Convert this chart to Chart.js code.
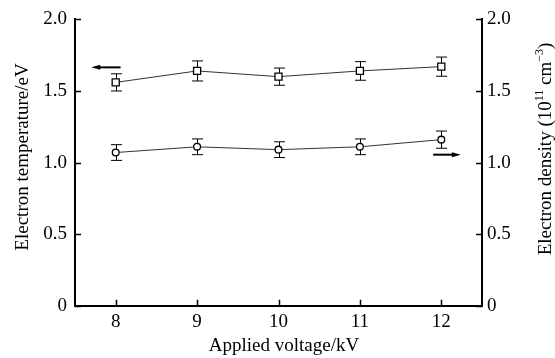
<!DOCTYPE html>
<html>
<head>
<meta charset="utf-8">
<script src="https://cdn.jsdelivr.net/npm/chart.js@4/dist/chart.umd.min.js"></script>
<style>
  html, body { margin: 0; padding: 0; background: #fff; }
  #wrap { width: 555px; height: 358px; }
</style>
</head>
<body>
<div id="wrap"><canvas id="plasmaChart" width="555" height="358"></canvas></div>
<script>
// Applied voltage (kV)
const voltage = [8, 9, 10, 11, 12];
// Electron temperature (eV), left axis
const temperature = [1.56, 1.64, 1.60, 1.64, 1.67];
const temperatureErr = [0.06, 0.07, 0.06, 0.065, 0.067];
// Electron density (1e11 cm^-3), right axis
const density = [1.07, 1.11, 1.09, 1.11, 1.16];
const densityErr = [0.055, 0.055, 0.055, 0.055, 0.06];
// y tick values (both axes)
const yTicks = [0, 0.5, 1.0, 1.5, 2.0];
// arrows telling which axis a series belongs to: [xFrom, xTo, y, yAxis]
const axisArrows = [
    [8.06, 7.70, 1.665, 'y'],
    [11.90, 12.24, 1.055, 'y1']
];

const FONT = 'Liberation Serif, Times New Roman, serif';

const toPoints = (ys) => voltage.map((v, i) => ({ x: v, y: ys[i] }));

// error bars with caps
const errorBars = {
    id: 'errorBars',
    afterDatasetsDraw(chart) {
        const ctx = chart.ctx;
        ctx.save();
        ctx.strokeStyle = '#000';
        ctx.lineWidth = 1;
        chart.data.datasets.forEach((ds, di) => {
            const yScale = chart.scales[ds.yAxisID];
            const xScale = chart.scales.x;
            ds.data.forEach((p, i) => {
                const x = Math.round(xScale.getPixelForValue(p.x)) + 0.5;
                const top = yScale.getPixelForValue(p.y + ds.errors[i]);
                const bot = yScale.getPixelForValue(p.y - ds.errors[i]);
                const r = ds.pointRadius;
                const ym = yScale.getPixelForValue(p.y);
                ctx.beginPath();
                ctx.moveTo(x, top); ctx.lineTo(x, ym - r * 0.75);
                ctx.moveTo(x, ym + r * 0.75); ctx.lineTo(x, bot);
                ctx.moveTo(x - 5.5, top); ctx.lineTo(x + 5.5, top);
                ctx.moveTo(x - 5.5, bot); ctx.lineTo(x + 5.5, bot);
                ctx.stroke();
            });
        });
        ctx.restore();
    }
};

// inward tick marks, arrows and axis titles
const decorations = {
    id: 'decorations',
    afterDraw(chart) {
        const ctx = chart.ctx;
        const { x, y, y1 } = chart.scales;
        const area = chart.chartArea;
        ctx.save();
        ctx.strokeStyle = '#000';
        ctx.lineWidth = 1.5;
        ctx.beginPath();
        x.ticks.forEach(t => {
            const px = Math.round(x.getPixelForValue(t.value)) + 0.5;
            ctx.moveTo(px, area.bottom); ctx.lineTo(px, area.bottom - 6);
        });
        y.ticks.forEach(t => {
            const py = Math.round(y.getPixelForValue(t.value)) + 0.5;
            ctx.moveTo(area.left, py); ctx.lineTo(area.left + 6, py);
        });
        y1.ticks.forEach(t => {
            const py = Math.round(y1.getPixelForValue(t.value)) + 0.5;
            ctx.moveTo(area.right, py); ctx.lineTo(area.right - 6, py);
        });
        ctx.stroke();

        // arrows
        ctx.lineWidth = 2;
        ctx.fillStyle = '#000';
        axisArrows.forEach(([x0, x1, yv, axis]) => {
            const s = chart.scales[axis];
            const p0 = x.getPixelForValue(x0);
            const p1 = x.getPixelForValue(x1);
            const py = s.getPixelForValue(yv);
            const dir = Math.sign(p1 - p0);
            ctx.beginPath();
            ctx.moveTo(p0, py); ctx.lineTo(p1 - dir * 6, py);
            ctx.stroke();
            ctx.beginPath();
            ctx.moveTo(p1, py);
            ctx.lineTo(p1 - dir * 9, py - 2.5);
            ctx.lineTo(p1 - dir * 9, py + 2.5);
            ctx.closePath();
            ctx.fill();
        });

        // titles
        ctx.fillStyle = '#000';
        ctx.font = '19px ' + FONT;
        ctx.textAlign = 'center';
        ctx.textBaseline = 'alphabetic';
        ctx.fillText('Applied voltage/kV', 284, 351);

        ctx.save();
        ctx.translate(28, 157);
        ctx.rotate(-Math.PI / 2);
        ctx.fillText('Electron temperature/eV', 0, 0);
        ctx.restore();

        // right title with superscripts, reading bottom to top
        const parts = [
            ['Electron density (10', false],
            ['11', true],
            [' cm', false],
            ['\u22123', true],
            [')', false]
        ];
        const big = '19px ' + FONT, small = '12px ' + FONT;
        let total = 0;
        parts.forEach(([t, sup]) => { ctx.font = sup ? small : big; total += ctx.measureText(t).width; });
        ctx.save();
        ctx.translate(551, 149);
        ctx.rotate(-Math.PI / 2);
        ctx.textAlign = 'left';
        let cx = -total / 2;
        parts.forEach(([t, sup]) => {
            ctx.font = sup ? small : big;
            ctx.fillText(t, cx, sup ? -8 : 0);
            cx += ctx.measureText(t).width;
        });
        ctx.restore();
        ctx.restore();
    }
};

const yLabel = (v) => (v === 0 ? '0' : v.toFixed(1));

new Chart(document.getElementById('plasmaChart'), {
    type: 'scatter',
    data: {
        datasets: [
            {
                label: 'Electron temperature',
                data: toPoints(temperature),
                errors: temperatureErr,
                yAxisID: 'y',
                showLine: true,
                borderColor: '#333',
                borderWidth: 1,
                pointStyle: 'rect',
                pointRadius: 5,
                pointBorderWidth: 1.3,
                pointBorderColor: '#000',
                pointBackgroundColor: '#fff',
                order: 0
            },
            {
                label: 'Electron density',
                data: toPoints(density),
                errors: densityErr,
                yAxisID: 'y1',
                showLine: true,
                borderColor: '#333',
                borderWidth: 1,
                pointStyle: 'circle',
                pointRadius: 3.4,
                pointBorderWidth: 1.3,
                pointBorderColor: '#000',
                pointBackgroundColor: '#fff',
                order: 0
            }
        ]
    },
    options: {
        responsive: false,
        animation: false,
        layout: { padding: { top: 16, left: 0, right: 0, bottom: 0 } },
        plugins: { legend: { display: false }, tooltip: { enabled: false } },
        scales: {
            x: {
                type: 'linear',
                min: 7.5,
                max: 12.5,
                afterBuildTicks: (s) => { s.ticks = voltage.map(v => ({ value: v })); },
                afterFit: (s) => { s.height = 52.3; },
                grid: { display: false, drawTicks: false },
                border: { display: true, color: '#000', width: 2 },
                ticks: { color: '#000', padding: 5, font: { family: FONT, size: 19 } }
            },
            y: {
                position: 'left',
                min: 0,
                max: 2,
                afterBuildTicks: (s) => { s.ticks = yTicks.map(v => ({ value: v })); },
                afterFit: (s) => { s.width = 75; },
                grid: { display: false, drawTicks: false },
                border: { display: true, color: '#000', width: 2 },
                ticks: { color: '#000', padding: 8, callback: yLabel, font: { family: FONT, size: 19 } }
            },
            y1: {
                position: 'right',
                min: 0,
                max: 2,
                afterBuildTicks: (s) => { s.ticks = yTicks.map(v => ({ value: v })); },
                afterFit: (s) => { s.width = 73; },
                grid: { display: false, drawTicks: false },
                border: { display: true, color: '#000', width: 2 },
                ticks: { color: '#000', padding: 5, callback: yLabel, font: { family: FONT, size: 19 } }
            }
        }
    },
    plugins: [errorBars, decorations]
});
</script>
</body>
</html>
